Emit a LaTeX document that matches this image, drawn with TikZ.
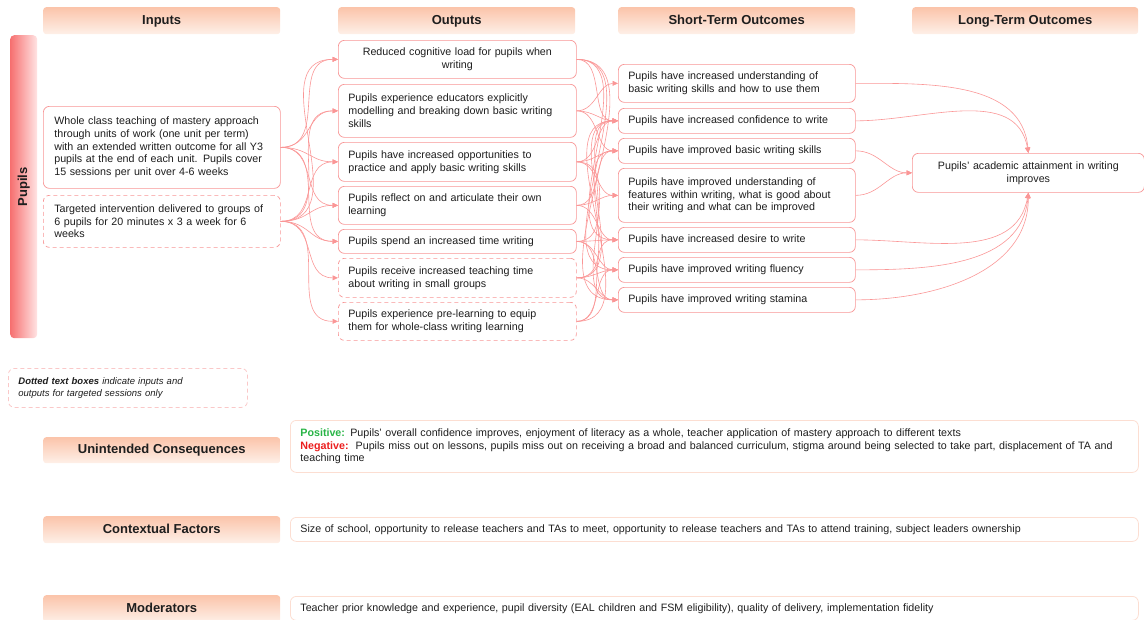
\documentclass[tikz,border=0pt]{standalone}
\usepackage{fontspec}
\setmainfont{Liberation Sans}
\usetikzlibrary{arrows.meta}
\definecolor{bd}{RGB}{248,150,150}
\definecolor{ar}{RGB}{250,150,150}
\definecolor{hdtop}{RGB}{251,196,170}
\definecolor{hdbot}{RGB}{254,240,232}
\definecolor{lbd}{RGB}{252,222,210}
\definecolor{legbd}{RGB}{250,200,200}
\definecolor{pl}{RGB}{246,112,112}
\definecolor{pr}{RGB}{255,228,228}
\definecolor{posg}{RGB}{40,180,70}
\definecolor{negr}{RGB}{235,30,30}
\definecolor{txt}{RGB}{30,30,30}
\begin{document}
\begin{tikzpicture}[x=1pt,y=-1pt,
 box/.style={draw=bd, line width=0.7pt, rounded corners=6pt, fill=white, text=txt, font=\fontsize{10.7}{12.8}\selectfont, inner xsep=10pt, inner ysep=2pt, anchor=north west, align=left},
 dbox/.style={box, dash pattern=on 4pt off 3pt},
 hdr/.style={rounded corners=3pt, top color=hdtop, bottom color=hdbot, draw=none, text=txt, font=\bfseries\fontsize{13}{15}\selectfont, anchor=north west, inner sep=0pt, minimum width=237pt, text height=9.5pt, text depth=2.5pt},
 conn/.style={draw=ar, line width=0.6pt, -{Triangle[length=5.5pt,width=5pt]}},
 wbox/.style={draw=lbd, line width=0.8pt, rounded corners=6pt, text=txt, font=\fontsize{10.7}{12.8}\selectfont, anchor=north west, inner xsep=10pt, inner ysep=2pt, align=left, minimum width=848pt, text width=828pt}
]
\useasboundingbox (0,0) rectangle (1144,619);

% headers
\node[hdr, minimum height=27pt] (hIn) at (43,7) {Inputs};
\node[hdr, minimum height=27pt] (hOut) at (338,7) {Outputs};
\node[hdr, minimum height=27pt] (hST) at (618,7) {Short-Term Outcomes};
\node[hdr, minimum height=27pt, minimum width=226pt] (hLT) at (912,7) {Long-Term Outcomes};

% pupils bar
\node[rounded corners=4pt, left color=pl, right color=pr, minimum width=27pt, minimum height=303pt, anchor=north west, inner sep=0pt] (pup) at (10,35) {};
\node[rotate=90, text=txt, font=\bfseries\fontsize{13}{15}\selectfont] (pupt) at (pup.center) {Pupils};

% inputs
\node[box, minimum width=237pt, text width=215pt, minimum height=82pt] (I1) at (43,106) {Whole class teaching of mastery approach\\through units of work (one unit per term)\\with an extended written outcome for all Y3\\pupils at the end of each unit. Pupils cover\\15 sessions per unit over 4-6 weeks};
\node[dbox, minimum width=237pt, text width=215pt, minimum height=52pt] (I2) at (43,195) {Targeted intervention delivered to groups of\\6 pupils for 20 minutes x 3 a week for 6\\weeks};

% outputs
\node[box, align=center, minimum width=238pt, text width=218pt, minimum height=38pt] (O1) at (338,40) {Reduced cognitive load for pupils when\\writing};
\node[box, minimum width=238pt, text width=218pt, minimum height=53pt] (O2) at (338,84) {Pupils experience educators explicitly\\modelling and breaking down basic writing\\skills};
\node[box, minimum width=238pt, text width=218pt, minimum height=39pt] (O3) at (338,142) {Pupils have increased opportunities to\\practice and apply basic writing skills};
\node[box, minimum width=238pt, text width=218pt, minimum height=38pt] (O4) at (338,186) {Pupils reflect on and articulate their own\\learning};
\node[box, minimum width=238pt, text width=218pt, minimum height=24pt] (O5) at (338,229) {Pupils spend an increased time writing};
\node[dbox, minimum width=238pt, text width=218pt, minimum height=39pt] (O6) at (338,258) {Pupils receive increased teaching time\\about writing in small groups};
\node[dbox, minimum width=238pt, text width=218pt, minimum height=38pt] (O7) at (338,302) {Pupils experience pre-learning to equip\\them for whole-class writing learning};

% short-term outcomes
\node[box, minimum width=237pt, text width=217pt, minimum height=38pt] (S1) at (618,64) {Pupils have increased understanding of\\basic writing skills and how to use them};
\node[box, minimum width=237pt, text width=217pt, minimum height=25pt] (S2) at (618,108) {Pupils have increased confidence to write};
\node[box, minimum width=237pt, text width=217pt, minimum height=25pt] (S3) at (618,138) {Pupils have improved basic writing skills};
\node[box, minimum width=237pt, text width=217pt, minimum height=54pt] (S4) at (618,168) {Pupils have improved understanding of\\features within writing, what is good about\\their writing and what can be improved};
\node[box, minimum width=237pt, text width=217pt, minimum height=25pt] (S5) at (618,227) {Pupils have increased desire to write};
\node[box, minimum width=237pt, text width=217pt, minimum height=25pt] (S6) at (618,257) {Pupils have improved writing fluency};
\node[box, minimum width=237pt, text width=217pt, minimum height=25pt] (S7) at (618,287) {Pupils have improved writing stamina};

% long-term outcome
\node[box, align=center, minimum width=232pt, text width=212pt, minimum height=39pt] (L) at (912,153) {Pupils' academic attainment in writing\\improves};

% inputs -> outputs
\foreach \o in {O1,O2,O3,O4,O5}
  \draw[conn] (I1.east) to[out=0,in=180,looseness=1.2] (\o.west);
\foreach \o in {O1,O2,O3,O4,O5,O6,O7}
  \draw[conn] (I2.east) to[out=0,in=180,looseness=1.2] (\o.west);

% outputs -> short-term
\foreach \s in {S2,S5,S6,S7}
  \draw[conn] (O1.east) to[out=0,in=180] (\s.west);
\foreach \s in {S1,S2,S3}
  \draw[conn] (O2.east) to[out=0,in=180] (\s.west);
\foreach \s in {S2,S3,S4,S7}
  \draw[conn] (O3.east) to[out=0,in=180] (\s.west);
\foreach \s in {S3,S4,S5}
  \draw[conn] (O4.east) to[out=0,in=180] (\s.west);
\foreach \s in {S2,S5,S6,S7}
  \draw[conn] (O5.east) to[out=0,in=180] (\s.west);
\foreach \s in {S2,S3,S6,S7}
  \draw[conn] (O6.east) to[out=0,in=180] (\s.west);
\foreach \s in {S2,S5,S6}
  \draw[conn] (O7.east) to[out=0,in=180] (\s.west);

% short-term -> long-term
\draw[conn] (S1.east) to[out=0,in=95] (L.north);
\draw[conn] (S2.east) to[out=0,in=100] (L.north);
\draw[conn] (S3.east) to[out=0,in=180] (L.west);
\draw[conn] (S4.east) to[out=0,in=180] (L.west);
\draw[conn] (S5.east) to[out=0,in=-100] (L.south);
\draw[conn] (S6.east) to[out=0,in=-95] (L.south);
\draw[conn] (S7.east) to[out=0,in=-90] (L.south);

% legend
\node[draw=legbd, line width=0.8pt, dash pattern=on 4pt off 3pt, rounded corners=6pt, anchor=north west, minimum width=239pt, minimum height=39pt, text width=219pt, inner xsep=10pt, align=left, text=txt, font=\itshape\fontsize{9.5}{12.3}\selectfont] (leg) at (8,368) {\textbf{Dotted text boxes} indicate inputs and\\outputs for targeted sessions only};

% bottom rows
\node[hdr, minimum height=26pt] (hUC) at (43,437) {Unintended Consequences};
\node[wbox, minimum height=52pt] (UC) at (290,420) {\textcolor{posg}{\textbf{Positive:}} Pupils' overall confidence improves, enjoyment of literacy as a whole, teacher application of mastery approach to different texts\\\textcolor{negr}{\textbf{Negative:}}\ \ Pupils miss out on lessons, pupils miss out on receiving a broad and balanced curriculum, stigma around being selected to take part, displacement of TA and\\teaching time};

\node[hdr, minimum height=27pt] (hCF) at (43,516) {Contextual Factors};
\node[wbox, minimum height=24pt] (CF) at (290,517) {Size of school, opportunity to release teachers and TAs to meet, opportunity to release teachers and TAs to attend training, subject leaders ownership};

\node[hdr, minimum height=27pt] (hMod) at (43,595) {Moderators};
\node[wbox, minimum height=24pt] (Mod) at (290,596) {Teacher prior knowledge and experience, pupil diversity (EAL children and FSM eligibility), quality of delivery, implementation fidelity};
\end{tikzpicture}
\end{document}
